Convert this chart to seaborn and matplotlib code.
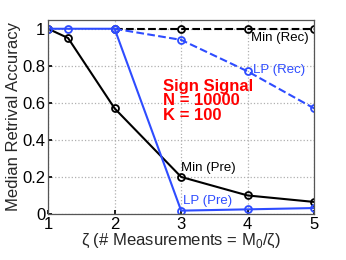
import matplotlib
matplotlib.use("Agg")
import matplotlib.pyplot as plt
import seaborn as sns
import pandas as pd

zeta = [1, 1.3, 2, 3, 4, 5]
min_pre = [1.0, 0.95, 0.57, 0.20, 0.10, 0.065]
lp_pre = [1.0, 1.0, 1.0, 0.018, 0.025, 0.032]
zeta_rec = [2, 3, 4, 5]
min_rec = [1.0, 1.0, 1.0, 1.0]
lp_rec = [1.0, 0.94, 0.77, 0.57]

BLUE = "#2e4cff"

sns.set_theme(style="ticks")
plt.rcParams["font.family"] = ["Liberation Sans", "DejaVu Sans"]
plt.rcParams["mathtext.fontset"] = "custom"
plt.rcParams["mathtext.rm"] = "Liberation Sans"

fig = plt.figure(figsize=(3.46, 2.6), dpi=100)
ax = fig.add_axes([0.139, 0.177, 0.769, 0.748])

pre = pd.DataFrame({"zeta": zeta, "min": min_pre, "lp": lp_pre})
rec = pd.DataFrame({"zeta": zeta_rec, "min": min_rec, "lp": lp_rec})

common = dict(marker="o", markersize=5, markerfacecolor="none", markeredgewidth=1.3,
              linewidth=1.5, ax=ax)
sns.lineplot(data=rec, x="zeta", y="min", color="black", linestyle="--",
             markeredgecolor="black", **common)
sns.lineplot(data=rec, x="zeta", y="lp", color=BLUE, linestyle="--",
             markeredgecolor=BLUE, **common)
sns.lineplot(data=pre, x="zeta", y="min", color="black",
             markeredgecolor="black", **common)
sns.lineplot(data=pre, x="zeta", y="lp", color=BLUE,
             markeredgecolor=BLUE, **common)

ax.set_xlim(1, 5)
ax.set_ylim(0, 1.05)
ax.set_xticks([1, 2, 3, 4, 5])
ax.set_yticks([0, 0.2, 0.4, 0.6, 0.8, 1])
ax.set_yticklabels(["0", "0.2", "0.4", "0.6", "0.8", "1"])
ax.grid(True, linestyle=":", color="#b0b0b0", linewidth=0.9)
for s in ax.spines.values():
    s.set_color("#555555")
    s.set_linewidth(0.9)
ax.tick_params(labelsize=12, length=3, direction="in", colors="black", pad=2)
ax.set_xlabel(r"ζ (# Measurements = M$_0$/ζ)", fontsize=12, labelpad=0)
ax.set_ylabel("Median Retrival Accuracy", fontsize=12, labelpad=1)

ax.text(4.05, 0.95, "Min (Rec)", fontsize=9.5, color="black", va="center")
ax.text(4.08, 0.78, "LP (Rec)", fontsize=9.5, color=BLUE, va="center")
ax.text(3.0, 0.25, "Min (Pre)", fontsize=9.5, color="black", va="center")
ax.text(3.03, 0.07, "LP (Pre)", fontsize=9.5, color=BLUE, va="center")
ax.text(2.73, 0.61, "Sign Signal\nN = 10000\nK = 100", fontsize=12,
        color="red", fontweight="bold", va="center", linespacing=0.95)

fig.savefig("out.png", dpi=100)
